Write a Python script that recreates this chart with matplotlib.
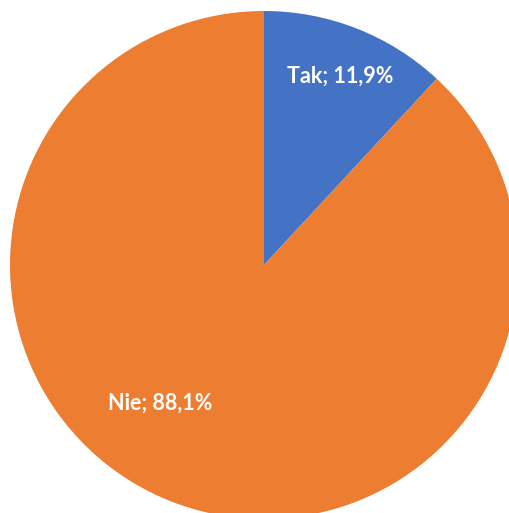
import matplotlib

matplotlib.use("Agg")
import matplotlib.pyplot as plt
import numpy as np

labels = ["Tak", "Nie"]
values = [11.9, 88.1]
colors = ["#4472C4", "#ED7D31"]

W, H = 510, 513
cx, cy, r = 264, 265, 254

fig = plt.figure(figsize=(W / 100, H / 100), dpi=100)
ax = fig.add_axes([0, 0, 1, 1])

wedges, _ = ax.pie(
    values,
    colors=colors,
    startangle=90,
    counterclock=False,
    radius=1.0,
    frame=True,
    wedgeprops={"linewidth": 0},
)
ax.set_xlim(-cx / r, (W - cx) / r)
ax.set_ylim(-(H - cy) / r, cy / r)
ax.set_aspect("auto")
ax.axis("off")

# label placement (radius, clockwise angle from top in degrees)
label_pos = [(0.80, 22.0), (0.68, 216.8)]
for lab, val, (dist, ang) in zip(labels, values, label_pos):
    a = np.deg2rad(ang)
    ax.text(
        dist * np.sin(a),
        dist * np.cos(a),
        f"{lab}; {val:.1f}%".replace(".", ","),
        ha="center",
        va="center",
        color="white",
        fontsize=15.5,
        fontweight="bold",
        family=["Lato", "DejaVu Sans"],
    )

fig.savefig("out.png", dpi=100)
